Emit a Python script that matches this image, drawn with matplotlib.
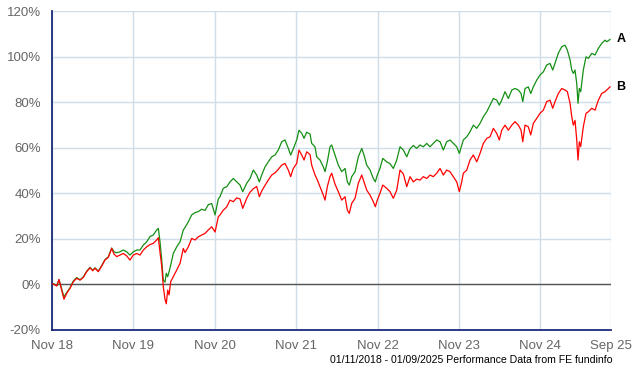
import matplotlib
matplotlib.use("Agg")
import matplotlib.pyplot as plt
import numpy as np

# time in decimal years
t = [2018.842, 2018.891, 2018.919, 2018.944, 2018.980, 2019.014, 2019.054, 2019.095, 2019.136, 2019.177,
     2019.218, 2019.259, 2019.300, 2019.333, 2019.361, 2019.402, 2019.444, 2019.484, 2019.525, 2019.566,
     2019.595, 2019.628, 2019.668, 2019.709, 2019.751, 2019.791, 2019.832, 2019.874, 2019.914, 2019.955,
     2019.996, 2020.037, 2020.077, 2020.119, 2020.139, 2020.160, 2020.181, 2020.200, 2020.221, 2020.237,
     2020.254, 2020.271, 2020.291, 2020.323, 2020.365, 2020.406, 2020.446, 2020.467, 2020.508, 2020.549,
     2020.590, 2020.631, 2020.672, 2020.713, 2020.753, 2020.795, 2020.836, 2020.876, 2020.897, 2020.937,
     2020.979, 2021.020, 2021.060, 2021.102, 2021.143, 2021.176, 2021.225, 2021.266, 2021.306, 2021.348,
     2021.380, 2021.409, 2021.450, 2021.490, 2021.532, 2021.573, 2021.613, 2021.655, 2021.695, 2021.736,
     2021.765, 2021.797, 2021.839, 2021.867, 2021.901, 2021.929, 2021.962, 2022.003, 2022.023, 2022.064,
     2022.085, 2022.125, 2022.166, 2022.187, 2022.215, 2022.248, 2022.269, 2022.310, 2022.350, 2022.392,
     2022.433, 2022.461, 2022.485, 2022.515, 2022.556, 2022.596, 2022.638, 2022.666, 2022.699, 2022.740,
     2022.780, 2022.805, 2022.829, 2022.862, 2022.896, 2022.945, 2022.985, 2023.026, 2023.068, 2023.108,
     2023.149, 2023.191, 2023.231, 2023.272, 2023.313, 2023.354, 2023.394, 2023.436, 2023.477, 2023.517,
     2023.559, 2023.600, 2023.640, 2023.682, 2023.722, 2023.763, 2023.805, 2023.837, 2023.866, 2023.886,
     2023.928, 2023.968, 2024.009, 2024.051, 2024.091, 2024.132, 2024.174, 2024.214, 2024.255, 2024.296,
     2024.328, 2024.358, 2024.398, 2024.439, 2024.481, 2024.521, 2024.562, 2024.595, 2024.616, 2024.644,
     2024.684, 2024.714, 2024.746, 2024.788, 2024.828, 2024.869, 2024.910, 2024.951, 2024.984, 2025.012,
     2025.053, 2025.095, 2025.135, 2025.164, 2025.197, 2025.218, 2025.237, 2025.258, 2025.279, 2025.295,
     2025.311, 2025.328, 2025.360, 2025.393, 2025.422, 2025.463, 2025.504, 2025.545, 2025.586, 2025.627,
     2025.648, 2025.688]

series_a = [0.5, -0.5, 2.0, -1.0, -5.5, -3.5, -1.5, 1.5, 3.0, 2.0,
            3.3, 5.8, 7.5, 6.2, 7.3, 5.8, 8.3, 10.9, 12.1, 16.0,
            14.3, 13.9, 14.3, 15.1, 14.3, 12.9, 14.3, 15.1, 15.1, 17.3,
            18.7, 21.0, 21.7, 23.9, 24.6, 18.7, 10.7, 1.9, 1.0, 4.9,
            3.4, 5.5, 8.5, 13.6, 16.5, 18.7, 23.9, 25.0, 27.5, 30.5,
            31.5, 32.0, 33.0, 32.5, 35.0, 35.5, 30.5, 37.5, 38.5, 42.2,
            42.9, 45.0, 46.5, 45.0, 43.6, 40.7, 44.4, 46.5, 50.2, 48.0,
            45.0, 48.0, 51.6, 53.8, 56.0, 56.8, 59.0, 62.6, 63.4, 59.7,
            56.8, 59.5, 63.4, 67.7, 66.3, 64.1, 66.8, 66.0, 61.9, 60.4,
            56.0, 54.6, 51.6, 49.5, 53.8, 60.4, 61.2, 56.8, 52.4, 49.5,
            50.9, 45.0, 43.6, 47.3, 49.5, 56.0, 59.7, 56.8, 52.4, 50.2,
            46.5, 45.0, 48.0, 50.9, 55.3, 53.8, 53.0, 50.9, 54.6, 60.4,
            59.0, 56.0, 59.5, 61.0, 59.7, 61.2, 60.4, 61.9, 60.4, 61.9,
            63.4, 62.6, 59.0, 62.6, 63.4, 61.9, 60.4, 57.5, 61.0, 63.4,
            64.8, 67.0, 69.9, 68.5, 70.7, 73.6, 75.8, 78.7, 81.6, 80.9,
            78.7, 80.9, 84.6, 81.6, 85.3, 86.0, 85.3, 83.8, 80.2, 86.0,
            86.7, 83.8, 86.7, 89.7, 91.9, 93.3, 96.3, 97.0, 94.1, 97.0,
            101.5, 104.3, 105.0, 102.8, 98.5, 94.1, 92.6, 94.1, 88.2, 79.5,
            86.0, 84.6, 94.1, 99.9, 99.2, 101.4, 100.7, 103.6, 105.8, 107.2,
            106.5, 107.5]

series_b = [0.3, -0.7, 2.2, -1.3, -6.5, -3.9, -1.7, 1.2, 2.7, 1.9,
            3.1, 5.6, 7.3, 6.0, 7.1, 5.6, 8.1, 10.7, 11.9, 15.8,
            13.3, 12.2, 12.9, 13.6, 12.5, 10.7, 12.9, 13.6, 12.9, 15.1,
            16.5, 17.5, 18.0, 19.5, 20.5, 14.0, 8.0, -1.0, -6.5, -8.5,
            -2.5, -4.6, 1.2, 3.4, 6.3, 9.3, 15.8, 14.0, 16.5, 20.2,
            19.5, 20.9, 21.7, 22.4, 23.9, 25.3, 23.0, 29.7, 30.5, 32.6,
            34.0, 37.0, 36.3, 38.0, 37.5, 33.4, 37.8, 40.5, 42.0, 43.0,
            38.5, 41.0, 43.5, 45.8, 48.0, 49.0, 50.5, 52.4, 53.1, 50.2,
            47.3, 50.9, 53.1, 59.0, 56.8, 54.6, 58.2, 57.0, 52.4, 48.0,
            46.5, 42.9, 39.2, 37.0, 42.9, 47.3, 48.8, 44.0, 40.7, 37.0,
            38.5, 32.6, 31.2, 35.6, 37.8, 44.4, 48.0, 45.0, 41.4, 39.2,
            36.3, 34.1, 37.0, 40.0, 43.6, 42.2, 40.7, 37.8, 41.4, 50.2,
            48.5, 42.9, 47.3, 45.0, 46.2, 45.8, 47.3, 46.5, 48.0, 47.3,
            48.8, 50.9, 48.0, 50.2, 49.5, 47.3, 45.0, 40.7, 45.0, 48.8,
            50.2, 54.6, 56.8, 53.8, 57.5, 61.9, 64.1, 64.8, 68.5, 66.3,
            63.4, 67.7, 69.9, 67.7, 69.9, 71.4, 69.9, 67.7, 62.6, 69.9,
            69.2, 65.6, 70.7, 72.9, 75.1, 76.5, 80.2, 80.9, 77.3, 80.2,
            83.8, 86.0, 85.3, 84.6, 79.5, 73.6, 69.9, 72.0, 63.4, 54.6,
            62.6, 60.5, 69.2, 75.1, 75.8, 77.3, 76.5, 80.9, 83.8, 84.6,
            85.3, 86.7]

series_names = ["A", "B"]
x_tick_pos = [2018.833, 2019.833, 2020.833, 2021.833, 2022.833, 2023.833, 2024.833, 2025.70]
x_tick_labels = ["Nov 18", "Nov 19", "Nov 20", "Nov 21", "Nov 22", "Nov 23", "Nov 24", "Sep 25"]
y_ticks = [-20, 0, 20, 40, 60, 80, 100, 120]
footer = "01/11/2018 - 01/09/2025 Performance Data from FE fundinfo"

plt.rcParams['font.family'] = ['Liberation Sans', 'DejaVu Sans']

fig = plt.figure(figsize=(6.4, 3.7), dpi=100)
ax = fig.add_axes([52/640, 1-330/370, (611-52)/640, (330-11)/370])

grid_col = "#cfdde8"
for yv in y_ticks:
    ax.axhline(yv, color=grid_col, lw=1, zorder=0)
for xv in x_tick_pos:
    ax.axvline(xv, color=grid_col, lw=1, zorder=0)
ax.axhline(0, color="#555555", lw=1, zorder=1)

ax.plot(t, series_a, color="#148f14", lw=0.9, zorder=2)
ax.plot(t, series_b, color="#ff0000", lw=0.9, zorder=3)

ax.set_xlim(x_tick_pos[0], x_tick_pos[-1])
ax.set_ylim(-20, 120)
ax.set_yticks(y_ticks)
ax.set_yticklabels([f"{v}%" for v in y_ticks])
ax.set_xticks(x_tick_pos)
ax.set_xticklabels(x_tick_labels)
ax.tick_params(axis='both', length=0, labelsize=9.5, colors="#666666")
ax.tick_params(axis='y', pad=8)
ax.tick_params(axis='x', pad=7)

for s in ['top', 'right']:
    ax.spines[s].set_visible(False)
for s in ['left', 'bottom']:
    ax.spines[s].set_color("#1a2a7a")
    ax.spines[s].set_linewidth(1.3)

for name, ser in zip(series_names, [series_a, series_b]):
    ax.annotate(name, xy=(t[-1], ser[-1]), xytext=(8, 0), textcoords='offset points',
                ha='center', va='center', fontsize=9, fontweight='bold', color='black',
                annotation_clip=False)

fig.text(612/640, 1-360/370, footer, ha='right', va='center', fontsize=7.6, color='black')

fig.savefig("out.png", dpi=100)
